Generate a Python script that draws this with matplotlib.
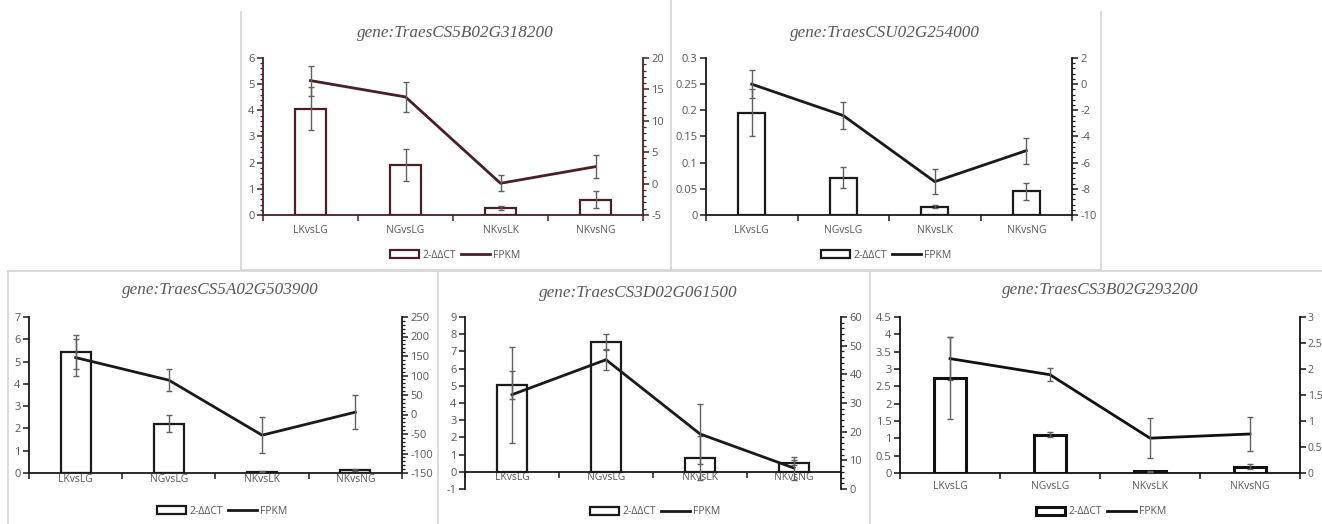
import matplotlib
matplotlib.use('Agg')
import matplotlib.pyplot as plt
from matplotlib.patches import Patch
from matplotlib.lines import Line2D
from matplotlib.ticker import MultipleLocator, FuncFormatter, FixedLocator

W, H = 1322, 524
categories = ['LKvsLG', 'NGvsLG', 'NKvsLK', 'NKvsNG']

titles = ['gene:TraesCS5B02G318200', 'gene:TraesCSU02G254000',
          'gene:TraesCS5A02G503900', 'gene:TraesCS3D02G061500',
          'gene:TraesCS3B02G293200']

# 2-ΔΔCT (left axis) values and errors
ct1 = [4.07, 1.92, 0.27, 0.58]
ct1_err = [0.82, 0.62, 0.08, 0.33]
ct2 = [0.195, 0.071, 0.016, 0.045]
ct2_err = [0.045, 0.02, 0.003, 0.017]
ct3 = [5.42, 2.22, 0.05, 0.13]
ct3_err = [0.75, 0.37, 0.02, 0.05]
ct4 = [5.05, 7.57, 0.80, 0.52]
ct4_err = [0.82, 0.45, 1.27, 0.15]
ct5 = [2.75, 1.10, 0.05, 0.18]
ct5_err = [1.18, 0.07, 0.02, 0.07]

# FPKM (right axis) values and errors
fp1 = [16.4, 13.8, 0.05, 2.7]
fp1_err = [2.4, 2.35, 1.3, 1.8]
fp2 = [0.0, -2.4, -7.45, -5.08]
fp2_err = [1.05, 1.0, 0.97, 1.0]
fp3 = [146, 88, -53, 6]
fp3_err = [47, 29, 46, 43]
fp4 = [32.9, 45.1, 19.2, 7.3]
fp4_err = [16.7, 3.5, 10.6, 4.0]
fp5 = [2.20, 1.89, 0.67, 0.75]
fp5_err = [0.41, 0.12, 0.38, 0.33]

panels = [
    dict(ct=ct1, cte=ct1_err, fp=fp1, fpe=fp1_err, box=(263, 58, 643, 215),
         yl=(0, 6, 1, 0.2), yr=(-5, 20, 5, 1), color='#4a1f26', title_xy=(455, 33),
         leg_xy=(455, 255), bw=0.33, lw=1.6, xpad=7, rsize=8, rpad=2),
    dict(ct=ct2, cte=ct2_err, fp=fp2, fpe=fp2_err, box=(706, 58, 1072, 215),
         yl=(0, 0.3, 0.05, None), yr=(-10, 2, 2, 0.4), color='#1a1a1a', title_xy=(885, 33),
         leg_xy=(886, 255), bw=0.30, lw=1.6, xpad=7, rsize=8, rpad=2),
    dict(ct=ct3, cte=ct3_err, fp=fp3, fpe=fp3_err, box=(29, 317, 402, 473),
         yl=(0, 7, 1, None), yr=(-150, 250, 50, 10), color='#1a1a1a', title_xy=(220, 290),
         leg_xy=(222, 511), bw=0.32, lw=1.6, xpad=0.5, rsize=8, rpad=2),
    dict(ct=ct4, cte=ct4_err, fp=fp4, fpe=fp4_err, box=(465, 317, 841, 489),
         yl=(-1, 9, 1, None), yr=(0, 60, 10, 2), color='#1a1a1a', title_xy=(638, 293),
         leg_xy=(655, 512), bw=0.32, lw=1.6, xpad=0.5, rsize=8, rpad=2),
    dict(ct=ct5, cte=ct5_err, fp=fp5, fpe=fp5_err, box=(900, 317, 1300, 473),
         yl=(0, 4.5, 0.5, None), yr=(0, 3, 0.5, None), color='#111111', title_xy=(1100, 290),
         leg_xy=(1101, 512), bw=0.32, lw=2.2, xpad=6, rsize=7.5, rpad=1.5),
]

fig = plt.figure(figsize=(W / 100, H / 100), dpi=100)
fig.patch.set_facecolor('white')

# panel borders
border = '#d4d4d4'
def fline(x0, y0, x1, y1):
    fig.add_artist(Line2D([x0 / W, x1 / W], [1 - y0 / H, 1 - y1 / H], color=border, lw=1.2))

fline(241, 12, 241, 270); fline(241, 270, 1101, 270)
fline(671, 0, 671, 270); fline(1101, 12, 1101, 270)
fline(8, 271, 1322, 271)
fline(8, 271, 8, 524); fline(438, 271, 438, 524); fline(870, 271, 870, 524)

fmt = FuncFormatter(lambda v, p: f'{v:g}')
tick_col = '#595959'
x = list(range(len(categories)))

for i, p in enumerate(panels):
    l, t, r, b = p['box']
    ax = fig.add_axes([l / W, 1 - b / H, (r - l) / W, (b - t) / H])
    col = p['color']
    ax.bar(x, p['ct'], width=p['bw'], facecolor='white', edgecolor=col, linewidth=p['lw'], zorder=2)
    ax.errorbar(x, p['ct'], yerr=p['cte'], fmt='none', ecolor='#606060', elinewidth=1.0,
                capsize=2.5, capthick=1.0, zorder=3)
    ax.set_xlim(-0.5, 3.5)
    y0, y1, ystep, yminor = p['yl']
    ax.set_ylim(y0, y1)
    ax.yaxis.set_major_locator(MultipleLocator(ystep))
    ax.yaxis.set_major_formatter(fmt)
    if yminor:
        ax.yaxis.set_minor_locator(MultipleLocator(yminor))
    ax.spines['top'].set_visible(False)
    ax.spines['right'].set_visible(False)
    ax.spines['left'].set_color(col)
    ax.spines['bottom'].set_color(col)
    ax.spines['left'].set_linewidth(1.3)
    ax.spines['bottom'].set_linewidth(1.3)
    ax.spines['bottom'].set_position(('data', 0))
    ax.set_xticks(x)
    ax.set_xticklabels(categories)
    ax.xaxis.set_minor_locator(FixedLocator([-0.5, 0.5, 1.5, 2.5, 3.5]))
    ax.tick_params(axis='x', which='major', length=0, pad=p['xpad'], labelsize=7.5, labelcolor=tick_col)
    ax.tick_params(axis='x', which='minor', length=4, width=1.1, color=col, direction='out')
    ax.tick_params(axis='y', which='major', length=4, width=1.1, color=col, labelsize=8,
                   labelcolor=tick_col, pad=2)
    ax.tick_params(axis='y', which='minor', length=2, width=0.9, color=col)
    for lab in ax.get_xticklabels() + ax.get_yticklabels():
        lab.set_family('Open Sans')
    ax.patch.set_alpha(0)

    ax2 = ax.twinx()
    ax2.plot(x, p['fp'], color=col, lw=2.0, zorder=4)
    ax2.errorbar(x, p['fp'], yerr=p['fpe'], fmt='none', ecolor='#606060', elinewidth=1.0,
                 capsize=2.5, capthick=1.0, zorder=5)
    r0, r1, rstep, rminor = p['yr']
    ax2.set_ylim(r0, r1)
    ax2.yaxis.set_major_locator(MultipleLocator(rstep))
    ax2.yaxis.set_major_formatter(fmt)
    if rminor:
        ax2.yaxis.set_minor_locator(MultipleLocator(rminor))
    for s in ['top', 'bottom', 'left']:
        ax2.spines[s].set_visible(False)
    ax2.spines['right'].set_color(col)
    ax2.spines['right'].set_linewidth(1.3)
    ax2.tick_params(axis='y', which='major', length=4, width=1.1, color=col, labelsize=p['rsize'],
                    labelcolor=tick_col, pad=p['rpad'])
    ax2.tick_params(axis='y', which='minor', length=2.5, width=0.9, color=col)
    for lab in ax2.get_yticklabels():
        lab.set_family('Open Sans')

    tx, ty = p['title_xy']
    fig.text(tx / W, 1 - ty / H, titles[i], ha='center', va='center',
             family='Liberation Serif', style='italic', fontsize=12.3, color='#595959')

    handles = [Patch(facecolor='white', edgecolor=col, linewidth=p['lw']),
               Line2D([0], [0], color=col, lw=2.0)]
    lx, ly = p['leg_xy']
    fig.legend(handles, ['2-ΔΔCT', 'FPKM'], loc='center', bbox_to_anchor=(lx / W, 1 - ly / H),
               ncol=2, frameon=False, handlelength=2.8, handleheight=0.9,
               handletextpad=0.3, columnspacing=0.5, labelcolor=tick_col,
               prop={'family': 'Open Sans', 'size': 7.5})

fig.savefig('out.png', dpi=100, facecolor='white')
